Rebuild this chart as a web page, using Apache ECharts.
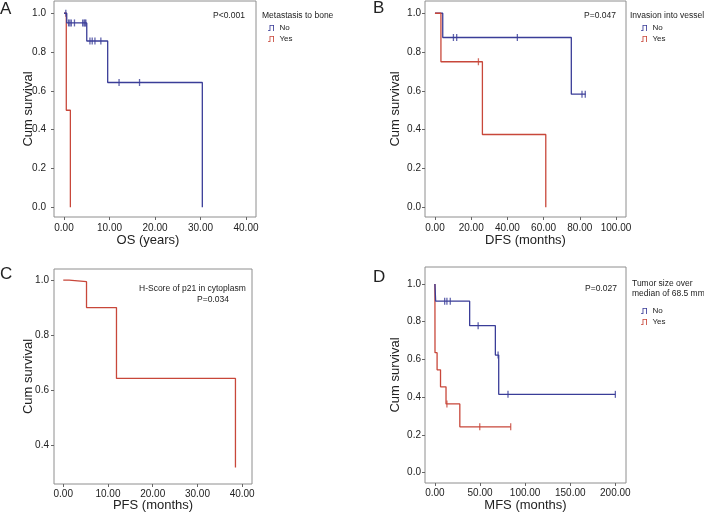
<!DOCTYPE html>
<html>
<head>
<meta charset="utf-8">
<script src="https://cdn.jsdelivr.net/npm/echarts@6/dist/echarts.min.js"></script>
<style>
html,body{margin:0;padding:0;background:#fff;}
#c{width:704px;height:515px;}
</style>
</head>
<body>
<div id="c"></div>
<script>
// ---------- DATA ----------
// Panel A: OS (years), Metastasis to bone
const A_no_t = [0, 0.6, 5.0, 9.6, 30.4];
const A_no_s = [1, 0.95, 0.857, 0.643, 0];
const A_no_cens_t = [0.4, 1.0, 1.3, 1.6, 2.3, 4.1, 4.4, 4.6, 4.8, 5.7, 6.2, 6.8, 8.1, 12.1, 16.6];
const A_no_cens_s = [1, 0.95, 0.95, 0.95, 0.95, 0.95, 0.95, 0.95, 0.95, 0.857, 0.857, 0.857, 0.857, 0.643, 0.643];
const A_yes_t = [0, 0.5, 1.4];
const A_yes_s = [1, 0.5, 0];
const A_xticks = [0, 10, 20, 30, 40];
const A_yticks = [0, 0.2, 0.4, 0.6, 0.8, 1.0];

// Panel B: DFS (months), Invasion into vessels
const B_no_t = [0, 4.3, 75.3, 83.2];
const B_no_s = [1, 0.875, 0.583, 0.583];
const B_no_cens_t = [10.2, 12.0, 45.5, 81.2, 83.0];
const B_no_cens_s = [0.875, 0.875, 0.875, 0.583, 0.583];
const B_yes_t = [0, 3.3, 26.2, 61.2];
const B_yes_s = [1, 0.75, 0.375, 0];
const B_yes_cens_t = [24.0];
const B_yes_cens_s = [0.75];
const B_xticks = [0, 20, 40, 60, 80, 100];
const B_yticks = [0, 0.2, 0.4, 0.6, 0.8, 1.0];

// Panel C: PFS (months), H-Score of p21 in cytoplasm
const C_t = [0, 1.3, 5.2, 11.9, 38.5];
const C_s = [1, 0.994, 0.9, 0.643, 0.32];
const C_xticks = [0, 10, 20, 30, 40];
const C_yticks = [0.4, 0.6, 0.8, 1.0];

// Panel D: MFS (months), Tumor size over median
const D_no_t = [0, 0.8, 38.5, 67.0, 70.7, 200];
const D_no_s = [1, 0.909, 0.779, 0.623, 0.415, 0.415];
const D_no_cens_t = [10.8, 13.3, 17.0, 47.9, 70.0, 81.0, 200];
const D_no_cens_s = [0.909, 0.909, 0.909, 0.779, 0.623, 0.415, 0.415];
const D_yes_t = [0, 0.1, 2.4, 6.2, 12.3, 27.6, 84];
const D_yes_s = [1, 0.636, 0.545, 0.455, 0.364, 0.243, 0.243];
const D_yes_cens_t = [13.3, 49.7, 84];
const D_yes_cens_s = [0.364, 0.243, 0.243];
const D_xticks = [0, 50, 100, 150, 200];
const D_yticks = [0, 0.2, 0.4, 0.6, 0.8, 1.0];

// ---------- STYLE ----------
const BLUE = '#3a3d98';
const RED = '#c8473a';
const FONT = 'Liberation Sans, Arial, sans-serif';
const NARROW = 'Liberation Sans Narrow, Liberation Sans, Arial, sans-serif';

function zip(t, s) { return t.map((v, i) => [v, s[i]]); }

const grids = [
  {left: 54, top: 1, width: 202, height: 216},
  {left: 425, top: 1, width: 201, height: 216},
  {left: 54, top: 269, width: 198, height: 215},
  {left: 425, top: 267, width: 201, height: 216}
].map(g => Object.assign(g, {show: true, borderColor: '#8e8e8e', borderWidth: 1, backgroundColor: 'transparent', containLabel: false}));

function xAx(i, min, max, ticks, name, lblMargin, nameGap, pad) {
  return {
    type: 'value', gridIndex: i, min: min, max: max, position: 'bottom',
    axisLine: {show: false, onZero: false},
    axisTick: {show: true, inside: false, length: 3, customValues: ticks, lineStyle: {color: '#666'}},
    axisLabel: {customValues: ticks, formatter: v => v.toFixed(2), fontSize: 10, color: '#222', margin: lblMargin, fontFamily: FONT},
    splitLine: {show: false},
    name: name, nameLocation: 'middle', nameGap: nameGap, nameMoveOverlap: false,
    nameTextStyle: {fontSize: 13, color: '#222', fontFamily: FONT, padding: pad || 0}
  };
}
function yAx(i, min, max, ticks, lblMargin, nameGap) {
  return {
    type: 'value', gridIndex: i, min: min, max: max, position: 'left',
    axisLine: {show: false, onZero: false},
    axisTick: {show: true, inside: false, length: 3, customValues: ticks, lineStyle: {color: '#666'}},
    axisLabel: {customValues: ticks, formatter: v => v.toFixed(1), fontSize: 10, color: '#222', margin: lblMargin, fontFamily: FONT},
    splitLine: {show: false},
    name: 'Cum survival', nameLocation: 'middle', nameGap: nameGap, nameRotate: 90, nameMoveOverlap: false,
    nameTextStyle: {fontSize: 13, color: '#222', fontFamily: FONT}
  };
}

function km(name, idx, t, s, color) {
  return {type: 'line', name: name, xAxisIndex: idx, yAxisIndex: idx, data: zip(t, s), step: 'end',
    showSymbol: false, symbol: 'none', color: color, lineStyle: {color: color, width: 1.3}, silent: true};
}
function cens(name, idx, t, s, color) {
  return {type: 'scatter', name: name, xAxisIndex: idx, yAxisIndex: idx, data: zip(t, s),
    symbol: 'rect', symbolSize: [1.3, 7], itemStyle: {color: color}, silent: true};
}

const ICON = 'path://M0,8.6 L2.6,8.6 L2.6,0 L10,0 L10,10 L8.6,10 L8.6,1.4 L4,1.4 L4,10 L0,10 Z';
function leg(left, top) {
  return {show: true, orient: 'vertical', left: left, top: top, data: ['No', 'Yes'], selectedMode: false,
    icon: ICON, itemWidth: 7, itemHeight: 6, itemGap: 3,
    textStyle: {fontSize: 8, color: '#222', fontFamily: NARROW}};
}

function txt(x, y, s, size, extra) {
  return {type: 'text', left: x, top: y, style: Object.assign({text: s, fontSize: size, fill: '#222', fontFamily: NARROW}, extra || {})};
}

const option = {
  animation: false,
  backgroundColor: '#fff',
  grid: grids,
  xAxis: [
    xAx(0, -2.2, 42.2, A_xticks, 'OS (years)', 6, 17, [0, 14, 0, 0]),
    xAx(1, -5.5, 105.5, B_xticks, 'DFS (months)', 6, 17),
    xAx(2, -2.07, 42.2, C_xticks, 'PFS (months)', 5, 15),
    xAx(3, -11, 211.8, D_xticks, 'MFS (months)', 5, 16)
  ],
  yAxis: [
    yAx(0, -0.05, 1.063, A_yticks, 8, 19),
    yAx(1, -0.05, 1.063, B_yticks, 4, 23),
    yAx(2, 0.26, 1.04, C_yticks, 5, 19),
    yAx(3, -0.055, 1.09, D_yticks, 4, 23)
  ],
  legend: [leg(263, 19), leg(636, 19), leg(636, 302)],
  series: [
    km('Yes', 0, A_yes_t, A_yes_s, RED),
    km('No', 0, A_no_t, A_no_s, BLUE),
    cens('No', 0, A_no_cens_t, A_no_cens_s, BLUE),
    km('No', 1, B_no_t, B_no_s, BLUE),
    cens('No', 1, B_no_cens_t, B_no_cens_s, BLUE),
    km('Yes', 1, B_yes_t, B_yes_s, RED),
    cens('Yes', 1, B_yes_cens_t, B_yes_cens_s, RED),
    km('H-Score', 2, C_t, C_s, RED),
    km('Yes', 3, D_yes_t, D_yes_s, RED),
    cens('Yes', 3, D_yes_cens_t, D_yes_cens_s, RED),
    km('No', 3, D_no_t, D_no_s, BLUE),
    cens('No', 3, D_no_cens_t, D_no_cens_s, BLUE)
  ],
  graphic: [
    txt(0, 1, 'A', 17, {fontFamily: FONT}),
    txt(373, 0, 'B', 17, {fontFamily: FONT}),
    txt(0, 266, 'C', 17, {fontFamily: FONT}),
    txt(373, 269, 'D', 17, {fontFamily: FONT}),
    txt(213, 11, 'P<0.001', 8.5),
    txt(584, 11, 'P=0.047', 8.5),
    txt(139, 284, 'H-Score of p21 in cytoplasm', 8.5),
    txt(197, 295, 'P=0.034', 8.5),
    txt(585, 284, 'P=0.027', 8.5),
    txt(262, 11, 'Metastasis to bone', 8.5),
    txt(630, 11, 'Invasion into vessels', 8.5),
    txt(632, 279, 'Tumor size over', 8.5),
    txt(632, 289, 'median of 68.5 mm', 8.5)
  ]
};

const chart = echarts.init(document.getElementById('c'), null, {renderer: 'canvas'});
chart.setOption(option);
</script>
</body>
</html>
